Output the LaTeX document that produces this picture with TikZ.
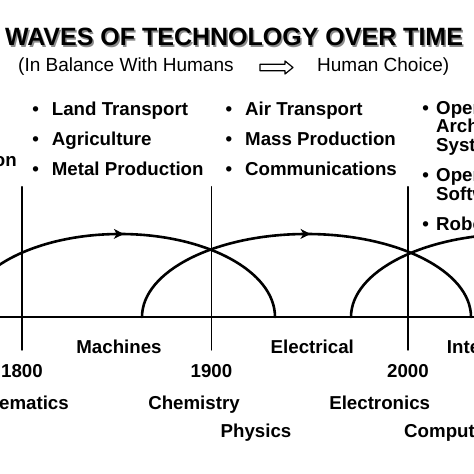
\documentclass[tikz,border=0pt]{standalone}
\usepackage{fontspec}
\setmainfont{Liberation Sans}
\usetikzlibrary{arrows.meta,decorations.markings}
\newcommand{\bul}{\llap{\textbullet\hspace{13pt}}}
\tikzset{
  lab/.style={font=\fontsize{18.7}{18.7}\selectfont\bfseries, inner sep=0pt, anchor=base},
  item/.style={lab, anchor=base west, align=left},
  sub/.style={font=\fontsize{19}{19}\selectfont, inner sep=0pt, anchor=base west},
  tick/.style={line width=1.4pt},
  wave/.style={line width=2.6pt, postaction={decorate}, decoration={markings,
    mark=at position 0.51 with {\arrow{Stealth[length=10pt,width=10pt,inset=3pt,line width=1pt]}}}}
}
\begin{document}
\begin{tikzpicture}[x=1pt,y=1pt,line join=round,line cap=round]
  \useasboundingbox (0,0) rectangle (474,474);
  \clip (0,0) rectangle (474,474);
  % title
  \node[font=\fontsize{25}{25}\selectfont\bfseries, inner sep=0pt, anchor=base, text=black!45] (shadow) at (235.5,426.5) {WAVES OF TECHNOLOGY OVER TIME};
  \node[font=\fontsize{25}{25}\selectfont\bfseries, inner sep=0pt, anchor=base] (title) at (234,428) {WAVES OF TECHNOLOGY OVER TIME};
  \node[sub] (balance) at (18,402) {(In Balance With Humans};
  \node[sub] (choice) at (317,402) {Human Choice)};
  \draw[line width=1.2pt, fill=white] (260,403.3) -- (285,403.3) -- (285,400) -- (293,406.5)
    -- (285,413) -- (285,409.7) -- (260,409.7) -- cycle;
  % items
  \node[lab, anchor=base east] (prev) at (17,307.3) {Irrigation};
  \foreach \txt [count=\i] in {Land Transport,Agriculture,Metal Production}
    \node[item] (land\i) at (51.7,{358.3-29.7*(\i-1)}) {\bul\txt};
  \foreach \txt [count=\i] in {Air Transport,Mass Production,Communications}
    \node[item] (air\i) at (245,{358.3-29.7*(\i-1)}) {\bul\txt};
  \foreach \txt/\y [count=\i] in {Open/359.7,Architecture/341.3,Systems/322.3,Open Source/292,Software/273,Robotics/243}
    \node[item] (open\i) at (436,\y) {\txt};
  \foreach \y in {359.7,292,243}
    \node[item, anchor=base east] at (429,\y) {\textbullet};
  % axis and waves
  \draw[tick] (0,157) -- (474,157);
  \foreach \x/\yr in {22/1800,211.5/1900,408/2000}{
    \draw[tick] (\x,287.3) -- (\x,124);
    \node[lab] (y\yr) at (\x,96) {\yr};
  }
  \draw[wave] (-35,157) arc[start angle=180,end angle=0,x radius=155,y radius=83];
  \draw[wave] (142,157) arc[start angle=180,end angle=0,x radius=164.5,y radius=83];
  \draw[wave] (351,157) arc[start angle=180,end angle=0,x radius=164.5,y radius=83];
  % labels under the axis
  \node[lab] (mach) at (119,120) {Machines};
  \node[lab] (elec) at (312.3,120) {Electrical};
  \node[lab, anchor=base west] (inter) at (446.7,120) {Internet};
  \node[lab, anchor=base east] (math) at (69,64.3) {Mathematics};
  \node[lab] (chem) at (194,64.3) {Chemistry};
  \node[lab] (elnc) at (379.7,64.3) {Electronics};
  \node[lab] (phys) at (256,36.3) {Physics};
  \node[lab, anchor=base west] (comp) at (404,36.3) {Computers};
\end{tikzpicture}
\end{document}
